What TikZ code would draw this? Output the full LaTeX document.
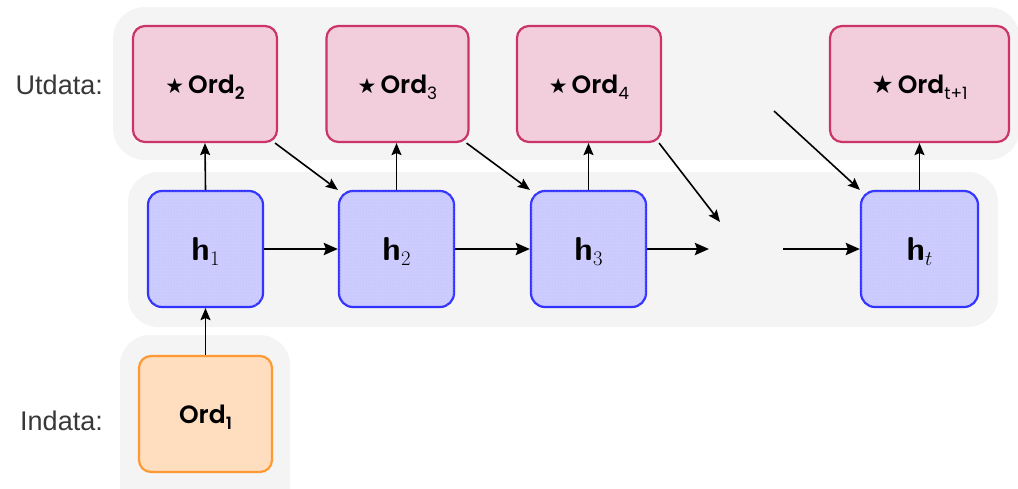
\documentclass[tikz,border=0pt]{standalone}
\usepackage{fontspec}
\usetikzlibrary{arrows.meta,patterns}
\setmainfont{Liberation Sans}
\newfontfamily\ordfont{Poppins}[BoldFont={Poppins SemiBold}]
\newfontfamily\symfont{DejaVu Sans}
\definecolor{bandgray}{HTML}{F4F4F4}
\definecolor{pinkfill}{HTML}{F2CDDB}
\definecolor{pinkline}{HTML}{CC3366}
\definecolor{bluefill}{HTML}{CCCCFF}
\definecolor{blueline}{HTML}{3333FF}
\definecolor{dotblue}{HTML}{BEBEF4}
\definecolor{orfill}{HTML}{FFDDBF}
\definecolor{orline}{HTML}{FF9933}
\definecolor{labelgray}{HTML}{383838}
\newcommand{\OrdLab}[3]{{\symfont\fontsize{#3}{#3}\selectfont ★}\hspace{4pt}{\ordfont\bfseries\fontsize{25}{25}\selectfont Ord\smash{\raisebox{-6pt}{\fontsize{17}{17}\selectfont #1#2}}}}
\newcommand{\HLab}[1]{{\sffamily\bfseries\fontsize{33}{33}\selectfont h}\smash{\raisebox{-5pt}{\fontsize{22}{22}\selectfont $#1$}}}
\begin{document}
\begin{tikzpicture}[x=1pt,y=-1pt,
  outbox/.style={draw=pinkline, fill=pinkfill, line width=2.2pt, rounded corners=12pt, minimum width=144pt, minimum height=116pt, inner sep=0pt},
  hbox/.style={draw=blueline, fill=bluefill, line width=2.2pt, rounded corners=14pt, minimum width=115pt, minimum height=116pt, inner sep=0pt, postaction={pattern=dots, pattern color=dotblue}},
  inbox/.style={draw=orline, fill=orfill, line width=2.2pt, rounded corners=12pt, minimum width=133pt, minimum height=116pt, inner sep=0pt},
  sidelabel/.style={anchor=east, text=labelgray, font=\fontsize{27}{27}\selectfont, inner sep=0pt},
  thinarrow/.style={line width=1.6pt, -{Stealth[length=12pt,width=10pt,inset=2pt]}},
  thickarrow/.style={line width=2.6pt, -{Stealth[length=14pt,width=12pt,inset=2pt]}}]
\useasboundingbox (0,0) rectangle (1018,488);
\clip (0,0) rectangle (1018,488);
% background bands
\fill[bandgray, rounded corners=32pt] (113,7) rectangle (1020,160);
\fill[bandgray, rounded corners=30pt] (128,172) rectangle (998,327);
\fill[bandgray, rounded corners=30pt] (120,335) rectangle (290,520);
% side labels
\node[sidelabel] (ut) at (103,85) {Utdata:};
\node[sidelabel] (in) at (103,421) {Indata:};
% output boxes
\node[outbox] (o2) at (205,84) {\OrdLab{\bfseries}{2}{21}};
\node[outbox, minimum width=142pt] (o3) at (397.5,84) {\OrdLab{\mdseries}{3}{21}};
\node[outbox] (o4) at (589,84) {\OrdLab{\mdseries}{4}{21}};
\node[outbox, minimum width=179pt] (ot) at (919.5,84) {\OrdLab{\mdseries}{t+1}{25}};
% hidden states
\node[hbox] (h1) at (205.5,249) {\HLab{1}};
\node[hbox] (h2) at (396.5,249) {\HLab{2}};
\node[hbox] (h3) at (588.5,249) {\HLab{3}};
\node[hbox, minimum width=117pt] (ht) at (919.5,249) {\HLab{t}};
% input
\node[inbox] (i1) at (205.5,414) {{\ordfont\bfseries\fontsize{25}{25}\selectfont Ord\smash{\raisebox{-6pt}{\fontsize{17}{17}\selectfont 1}}}};
% free ends
\coordinate (gapL) at (709,249);
\coordinate (gapR) at (783,249);
\coordinate (d4end) at (720,222);
\coordinate (dtstart) at (774,111);
% connectors
\draw[thinarrow] (i1.north) -- (h1.south);
\draw[thinarrow] (h1.north) -- (o2.south);
\draw[thinarrow] (h2.north) -- (h2.north |- o3.south);
\draw[thinarrow] (h3.north) -- (h3.north |- o4.south);
\draw[thinarrow] (ht.north) -- (ot.south -| ht.north);
\draw[thickarrow] (h1.east) -- (h2.west);
\draw[thickarrow] (h2.east) -- (h3.west);
\draw[thickarrow] (h3.east) -- (gapL);
\draw[thickarrow] (gapR) -- (ht.west);
\draw[thinarrow] ([xshift=-3pt]o2.south east) -- (h2.north west);
\draw[thinarrow] ([xshift=-3pt]o3.south east) -- (h3.north west);
\draw[thinarrow] ([xshift=-3pt]o4.south east) -- (d4end);
\draw[thinarrow] (dtstart) -- (ht.north west);
\end{tikzpicture}
\end{document}
